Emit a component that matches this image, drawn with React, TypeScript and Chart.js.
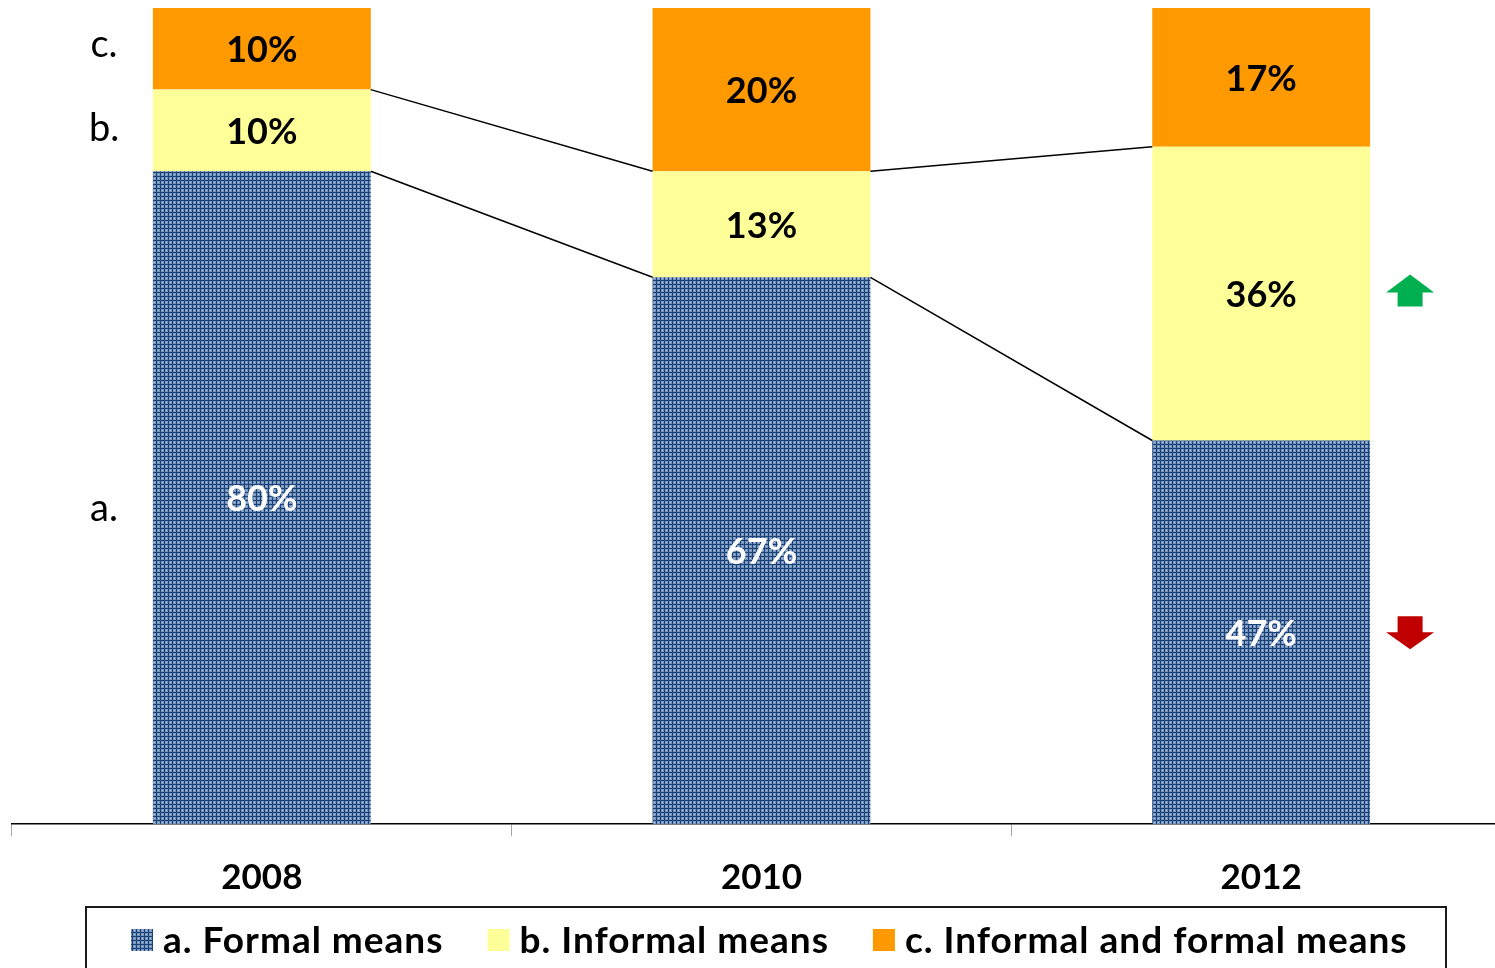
import React, { useEffect, useRef } from "react";
import { Chart, registerables } from "chart.js";

Chart.register(...registerables);

const years = ["2008", "2010", "2012"];
const seriesLabels = ["a. Formal means", "b. Informal means", "c. Informal and formal means"];
const sideLetters = ["a.", "b.", "c."];
const sideLetterOffsets = [11, -2, -4];
const formalMeans = [80, 67, 47];
const informalMeans = [10, 13, 36];
const informalAndFormal = [10, 20, 17];
const trendArrows = ["down", "up", ""]; // shown beside the last bar, per series
const seriesColors = ["#3C6396", "#FFFF99", "#FF9900"];
const labelColors = ["#FFFFFF", "#000000", "#000000"];

const FONT = "Lato, 'Open Sans', sans-serif";
const W = 1520;
const H = 968;

function makePattern(): CanvasPattern | string {
  const c = document.createElement("canvas");
  c.width = 4;
  c.height = 4;
  const g = c.getContext("2d");
  if (!g) return seriesColors[0];
  g.fillStyle = "#7895BE";
  g.fillRect(0, 0, 4, 4);
  g.fillStyle = "#A9BEDA";
  g.fillRect(2, 2, 1, 1);
  g.fillStyle = "#1B4277";
  g.fillRect(0, 0, 4, 1);
  g.fillRect(0, 0, 1, 4);
  const p = g.createPattern(c, "repeat");
  return p || seriesColors[0];
}

const overlayPlugin = {
  id: "overlay",
  afterDatasetsDraw(chart: any) {
    const ctx = chart.ctx;
    const n = chart.data.datasets.length;
    // series lines between bars (tops of first two series)
    ctx.save();
    ctx.strokeStyle = "#000";
    ctx.lineWidth = 1.5;
    for (let d = 0; d < n - 1; d++) {
      const meta = chart.getDatasetMeta(d);
      for (let i = 0; i < meta.data.length - 1; i++) {
        const a = meta.data[i];
        const b = meta.data[i + 1];
        ctx.beginPath();
        ctx.moveTo(a.x + a.width / 2, a.y);
        ctx.lineTo(b.x - b.width / 2, b.y);
        ctx.stroke();
      }
    }
    ctx.restore();

    // value labels
    ctx.save();
    ctx.textAlign = "center";
    ctx.textBaseline = "middle";
    ctx.font = `bold 36px ${FONT}`;
    for (let d = 0; d < n; d++) {
      const meta = chart.getDatasetMeta(d);
      const ds = chart.data.datasets[d];
      meta.data.forEach((el: any, i: number) => {
        ctx.fillStyle = labelColors[d];
        ctx.fillText(`${ds.data[i]}%`, el.x, (el.y + el.base) / 2 + 2);
      });
    }
    ctx.restore();

    // side letters next to the first bar
    ctx.save();
    ctx.textAlign = "center";
    ctx.textBaseline = "middle";
    ctx.fillStyle = "#000";
    ctx.font = `38px ${FONT}`;
    for (let d = 0; d < n; d++) {
      const el: any = chart.getDatasetMeta(d).data[0];
      ctx.fillText(sideLetters[d], 104, (el.y + el.base) / 2 + sideLetterOffsets[d]);
    }
    ctx.restore();

    // trend arrows beside the last bar
    ctx.save();
    for (let d = 0; d < n; d++) {
      const dir = trendArrows[d];
      if (!dir) continue;
      const meta = chart.getDatasetMeta(d);
      const el: any = meta.data[meta.data.length - 1];
      const cx = el.x + el.width / 2 + 40;
      const cy = (el.y + el.base) / 2 - (dir === "up" ? 2 : 0);
      ctx.beginPath();
      if (dir === "up") {
        ctx.fillStyle = "#00B050";
        ctx.moveTo(cx, cy - 17);
        ctx.lineTo(cx + 24, cy + 1);
        ctx.lineTo(cx + 12.5, cy + 1);
        ctx.lineTo(cx + 12.5, cy + 15);
        ctx.lineTo(cx - 12.5, cy + 15);
        ctx.lineTo(cx - 12.5, cy + 1);
        ctx.lineTo(cx - 24, cy + 1);
      } else {
        ctx.fillStyle = "#C00000";
        ctx.moveTo(cx, cy + 17);
        ctx.lineTo(cx + 24, cy);
        ctx.lineTo(cx + 12.5, cy);
        ctx.lineTo(cx + 12.5, cy - 16);
        ctx.lineTo(cx - 12.5, cy - 16);
        ctx.lineTo(cx - 12.5, cy);
        ctx.lineTo(cx - 24, cy);
      }
      ctx.closePath();
      ctx.fill();
    }
    ctx.restore();
  },
  afterDraw(chart: any) {
    const ctx = chart.ctx;
    ctx.save();
    // legend box
    ctx.strokeStyle = "#1a1a1a";
    ctx.lineWidth = 2;
    ctx.strokeRect(86, 907, 1360, 120);
    ctx.font = `bold 37px ${FONT}`;
    try {
      (ctx as any).letterSpacing = "1px";
    } catch (e) {}
    ctx.textBaseline = "middle";
    ctx.textAlign = "left";
    let x = 131;
    const cy = 940;
    chart.data.datasets.forEach((ds: any) => {
      ctx.fillStyle = ds.backgroundColor;
      ctx.fillRect(x, cy - 11, 22, 22);
      ctx.fillStyle = "#000";
      ctx.fillText(ds.label, x + 32, cy + 1);
      x += 32 + ctx.measureText(ds.label).width + 44;
    });
    ctx.restore();
  },
};

export default function App() {
  const ref = useRef<HTMLCanvasElement | null>(null);
  useEffect(() => {
    if (!ref.current) return;
    const pattern = makePattern();
    const series = [formalMeans, informalMeans, informalAndFormal];
    const chart = new Chart(ref.current, {
      type: "bar",
      data: {
        labels: years,
        datasets: series.map((vals, i) => ({
          label: seriesLabels[i],
          data: vals,
          backgroundColor: i === 0 ? pattern : seriesColors[i],
          borderWidth: 0,
          barPercentage: 0.436,
          categoryPercentage: 1,
        })),
      },
      options: {
        responsive: false,
        animation: false,
        layout: { padding: { left: 12, right: W - 1511, top: 8, bottom: 74 } },
        plugins: { legend: { display: false }, tooltip: { enabled: false } },
        scales: {
          x: {
            stacked: true,
            afterFit: (s: any) => {
              s.height = 70;
            },
            grid: {
              drawOnChartArea: false,
              tickLength: 12,
              color: "#A6A6A6",
              offset: true,
            },
            border: { display: true, color: "#000", width: 1.5 },
            ticks: {
              color: "#000",
              font: { family: FONT, size: 35, weight: "bold" },
              padding: 21,
            },
          },
          y: {
            stacked: true,
            display: false,
            min: 0,
            max: 100,
          },
        },
      },
      plugins: [overlayPlugin],
    });
    return () => chart.destroy();
  }, []);
  return (
    <div
      style={{
        position: "fixed",
        left: 0,
        top: 0,
        width: 1495,
        height: 968,
        overflow: "hidden",
        background: "#fff",
      }}
    >
      <canvas ref={ref} width={W} height={H} style={{ width: W, height: H, display: "block" }} />
    </div>
  );
}
